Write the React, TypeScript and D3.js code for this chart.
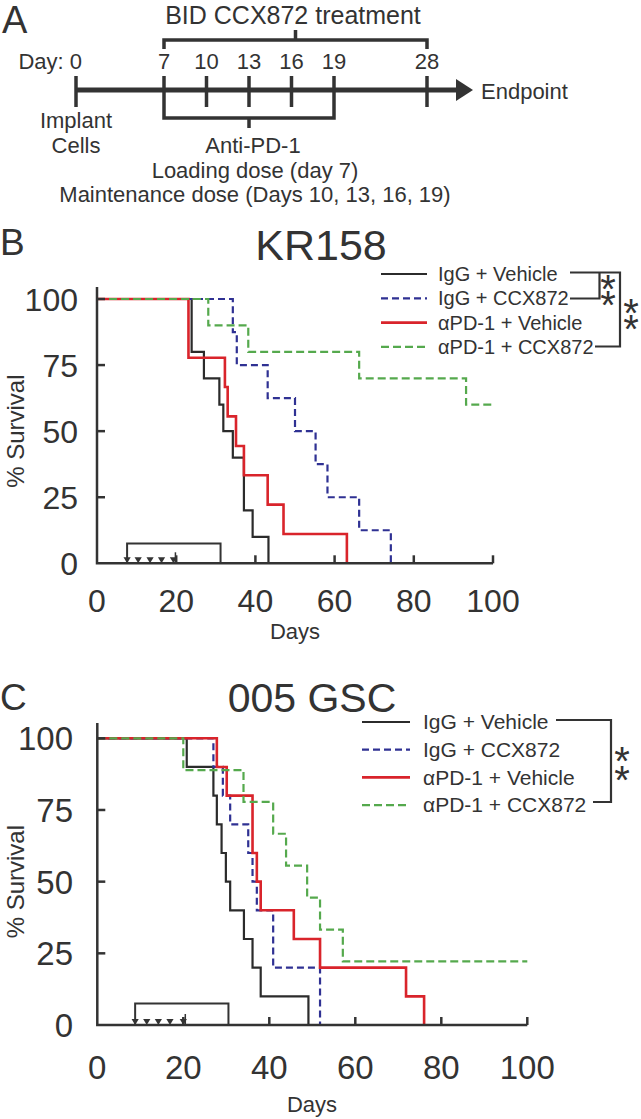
import React, { useRef, useEffect } from "react";
import * as d3 from "d3";

const WIDTH = 641;
const HEIGHT = 1119;
const FONT = "'Liberation Sans', Arial, Helvetica, sans-serif";
const INK = "#333";

// panel A: treatment timeline (days)
const timelineDays = [0, 7, 10, 13, 16, 19, 28];
const ccxWindow = [7, 28];
const pd1Window = [7, 19];

// shared
const groupNames = ["IgG + Vehicle", "IgG + CCX872", "αPD-1 + Vehicle", "αPD-1 + CCX872"];
const xTicks = [0, 20, 40, 60, 80, 100];
const yTicks = [0, 25, 50, 75, 100];

// KR158 survival (day, % survival)
const krIgGVehDays = [0, 23.9, 27, 30.9, 31.9, 34.3, 37.1, 39.3, 43.3];
const krIgGVehSurv = [100, 80, 70, 60, 50, 40, 20, 10, 0];
const krIgGCcxDays = [0, 34.3, 35.3, 43.1, 50, 55.2, 58.2, 66.2, 74.2];
const krIgGCcxSurv = [100, 87.5, 75, 62.5, 50, 37.5, 25, 12.5, 0];
const krPd1VehDays = [0, 23.1, 32.3, 33, 35.1, 37.1, 43.1, 47.1, 63.1];
const krPd1VehSurv = [100, 77.8, 66.7, 55.6, 44.4, 33.3, 22.2, 11.1, 0];
const krPd1CcxDays = [0, 28.1, 38.2, 66.2, 93.2, 100];
const krPd1CcxSurv = [100, 90, 80, 70, 60, 60];
const krDoseDays = [7.6, 10.4, 13.4, 16.3, 19.3];
const krTreatWindow = [7.6, 31.2];

// 005 GSC survival
const gscIgGVehDays = [0, 20.8, 27, 27.8, 28.9, 29.9, 30.9, 34.1, 36.1, 38, 49.1];
const gscIgGVehSurv = [100, 90, 80, 70, 60, 50, 40, 30, 20, 10, 0];
const gscIgGCcxDays = [0, 27, 29.2, 30.9, 35.1, 36.1, 37.1, 40.9, 51.8];
const gscIgGCcxSurv = [100, 90, 80, 70, 60, 50, 40, 20, 0];
const gscPd1VehDays = [0, 27.8, 30.1, 36.1, 37.1, 38, 45.7, 51.8, 71.8, 76];
const gscPd1VehSurv = [100, 90, 80, 60, 50, 40, 30, 20, 10, 0];
const gscPd1CcxDays = [0, 20, 34, 40.9, 43.9, 48.8, 51.8, 57.1, 100];
const gscPd1CcxSurv = [100, 88.9, 77.8, 66.7, 55.6, 44.4, 33.3, 22.2, 22.2];
const gscDoseDays = [8.8, 11.5, 14.2, 16.9, 20];
const gscTreatWindow = [8.8, 30.5];

const seriesStyle = [
  { color: "#2b2b2b", dash: null, width: 2.2 },
  { color: "#2f3193", dash: "7,4", width: 2.2 },
  { color: "#d9242b", dash: null, width: 2.6 },
  { color: "#55a94d", dash: "8,4", width: 2.2 },
];

const panels = [
  {
    title: "KR158",
    letter: "B",
    series: [
      [krIgGVehDays, krIgGVehSurv],
      [krIgGCcxDays, krIgGCcxSurv],
      [krPd1VehDays, krPd1VehSurv],
      [krPd1CcxDays, krPd1CcxSurv],
    ],
    doses: krDoseDays,
    window: krTreatWindow,
    geo: {
      x0: 97, x1: 493, y0: 563.3, y1: 299, axisTop: 287,
      letterY: 255, titleX: 321, titleY: 260, titleSize: 43,
      tickFont: 32, yLabelX: 78, xLabelY: 612, daysY: 639, daysX: 295,
      survX: 24, labelFont: 22,
      legX: 381, legY: 274, legStep: 24.3, legFont: 20, legLine: 46, legGap: 11,
    },
  },
  {
    title: "005 GSC",
    letter: "C",
    series: [
      [gscIgGVehDays, gscIgGVehSurv],
      [gscIgGCcxDays, gscIgGCcxSurv],
      [gscPd1VehDays, gscPd1VehSurv],
      [gscPd1CcxDays, gscPd1CcxSurv],
    ],
    doses: gscDoseDays,
    window: gscTreatWindow,
    geo: {
      x0: 97.3, x1: 527.3, y0: 1025, y1: 738.3, axisTop: 723,
      letterY: 710, titleX: 312, titleY: 712, titleSize: 41,
      tickFont: 33, yLabelX: 73, xLabelY: 1079, daysY: 1112, daysX: 312,
      survX: 24, labelFont: 22,
      legX: 362, legY: 722, legStep: 27.7, legFont: 21, legLine: 48, legGap: 13,
    },
  },
];

function drawTimeline(svg) {
  const g = svg.append("g").attr("fill", INK).style("font-family", FONT);
  const x = d3.scaleLinear().domain([0, 7, 19, 28]).range([76, 164, 334, 427]);
  const axisY = 90;

  g.append("text").attr("x", 2).attr("y", 33).attr("font-size", 38).text("A");
  g.append("text").attr("x", 293).attr("y", 24).attr("font-size", 25)
    .attr("text-anchor", "middle").text("BID CCX872 treatment");

  const line = g.append("g").attr("stroke", INK).attr("fill", "none").attr("stroke-width", 3.5);
  // top bracket (CCX872)
  line.append("path").attr("d",
    `M${x(ccxWindow[0])},49 V40 H${x(ccxWindow[1])} V49 M${(x(ccxWindow[0]) + x(ccxWindow[1])) / 2},40 V30`);
  // bottom bracket (anti-PD-1)
  line.append("path").attr("d",
    `M${x(pd1Window[0])},107 V118 H${x(pd1Window[1])} V107 M${x(13)},118 V128`);
  // main axis
  line.append("line").attr("x1", x(0)).attr("x2", 458).attr("y1", axisY).attr("y2", axisY)
    .attr("stroke-width", 5);
  g.append("path").attr("d", `M456,${axisY - 11} L473,${axisY} L456,${axisY + 11} Z`);
  line.selectAll(".tick").data(timelineDays).join("line")
    .attr("x1", (d) => x(d)).attr("x2", (d) => x(d))
    .attr("y1", axisY - 14).attr("y2", axisY + 17);

  g.selectAll(".dayLab").data(timelineDays.slice(1)).join("text")
    .attr("x", (d) => x(d)).attr("y", 69).attr("font-size", 22)
    .attr("text-anchor", "middle").text((d) => d);
  g.append("text").attr("x", x(0) + 6).attr("y", 69).attr("font-size", 22)
    .attr("text-anchor", "end").text("Day: 0");
  g.append("text").attr("x", 481).attr("y", 99).attr("font-size", 22).text("Endpoint");

  const mid = (t, xx, yy) =>
    g.append("text").attr("x", xx).attr("y", yy).attr("font-size", 22)
      .attr("text-anchor", "middle").text(t);
  mid("Implant", x(0), 128);
  mid("Cells", x(0), 153);
  mid("Anti-PD-1", 253, 153);
  mid("Loading dose (day 7)", 255, 178);
  mid("Maintenance dose (Days 10, 13, 16, 19)", 255, 202);
}

function drawPanel(svg, panel) {
  const p = panel.geo;
  const g = svg.append("g").style("font-family", FONT);
  const x = d3.scaleLinear().domain([0, 100]).range([p.x0, p.x1]);
  const y = d3.scaleLinear().domain([0, 100]).range([p.y0, p.y1]);

  g.append("text").attr("x", 0).attr("y", p.letterY).attr("font-size", 37).attr("fill", INK)
    .text(panel.letter);
  g.append("text").attr("x", p.titleX).attr("y", p.titleY).attr("font-size", p.titleSize)
    .attr("fill", INK).attr("text-anchor", "middle").text(panel.title);

  // curves
  const line = d3.line().x((d) => x(d[0])).y((d) => y(d[1])).curve(d3.curveStepAfter);
  panel.series.forEach(([days, surv], i) => {
    const s = seriesStyle[i];
    g.append("path")
      .datum(days.map((d, j) => [d, surv[j]]))
      .attr("fill", "none")
      .attr("stroke", s.color)
      .attr("stroke-width", s.width)
      .attr("stroke-dasharray", s.dash)
      .attr("d", line);
  });

  // axes
  const ax = g.append("g").attr("stroke", INK).attr("stroke-width", 2.5).attr("fill", "none");
  ax.append("path").attr("d", `M${p.x0},${p.axisTop} V${p.y0} H${x(100)}`);
  ax.selectAll(".xt").data(xTicks.slice(1)).join("line")
    .attr("x1", (d) => x(d)).attr("x2", (d) => x(d))
    .attr("y1", p.y0).attr("y2", p.y0 - 8);
  ax.selectAll(".yt").data(yTicks.slice(1)).join("line")
    .attr("x1", p.x0).attr("x2", p.x0 + 8)
    .attr("y1", (d) => y(d)).attr("y2", (d) => y(d));

  g.selectAll(".xl").data(xTicks).join("text")
    .attr("x", (d) => x(d)).attr("y", p.xLabelY).attr("font-size", p.tickFont)
    .attr("fill", INK).attr("text-anchor", "middle").text((d) => d);
  g.selectAll(".yl").data(yTicks).join("text")
    .attr("x", p.yLabelX).attr("y", (d) => y(d)).attr("dy", "0.36em")
    .attr("font-size", p.tickFont).attr("fill", INK).attr("text-anchor", "end").text((d) => d);
  g.append("text").attr("x", p.daysX).attr("y", p.daysY).attr("font-size", p.labelFont)
    .attr("fill", INK).attr("text-anchor", "middle").text("Days");
  g.append("text")
    .attr("transform", `translate(${p.survX},${(p.y0 + p.y1) / 2}) rotate(-90)`)
    .attr("font-size", p.labelFont + 2).attr("fill", INK).attr("text-anchor", "middle")
    .text("% Survival");

  // treatment window + dosing arrows
  const tw = panel.window;
  g.append("path").attr("fill", "none").attr("stroke", INK).attr("stroke-width", 2)
    .attr("d", `M${x(tw[0])},${p.y0} V${y(7.5)} H${x(tw[1])} V${p.y0}`);
  g.selectAll(".dose").data(panel.doses).join("path").attr("fill", INK)
    .attr("d", (d) => `M${x(d) - 3.6},${p.y0 - 6} H${x(d) + 3.6} L${x(d)},${p.y0} Z`);
  const last = panel.doses[panel.doses.length - 1];
  g.append("line").attr("stroke", INK).attr("stroke-width", 1.5)
    .attr("x1", x(last) + 2).attr("x2", x(last) + 2).attr("y1", p.y0 - 11).attr("y2", p.y0);

  // legend
  const leg = g.append("g");
  groupNames.forEach((name, i) => {
    const s = seriesStyle[i];
    const ly = p.legY + i * p.legStep;
    leg.append("line").attr("x1", p.legX).attr("x2", p.legX + p.legLine)
      .attr("y1", ly).attr("y2", ly).attr("stroke", s.color).attr("stroke-width", s.width)
      .attr("stroke-dasharray", s.dash);
    leg.append("text").attr("x", p.legX + p.legLine + p.legGap).attr("y", ly).attr("dy", "0.35em")
      .attr("font-size", p.legFont).attr("fill", INK).text(name);
  });
  return g;
}

// two stacked asterisks in one text element
const stars = (g, cx, cy, gap) => {
  const t = g.append("text").attr("x", cx).attr("y", cy + 22).attr("font-size", 40)
    .attr("text-anchor", "middle").attr("fill", INK).style("font-family", FONT);
  t.append("tspan").attr("x", cx).text("*");
  t.append("tspan").attr("x", cx).attr("dy", gap).text("*");
};

export default function App() {
  const svgRef = useRef(null);

  useEffect(() => {
    const svg = d3.select(svgRef.current);
    svg.selectAll("*").remove();
    svg.append("rect").attr("width", WIDTH).attr("height", HEIGHT).attr("fill", "#fff");

    drawTimeline(svg);
    const gB = drawPanel(svg, panels[0]);
    const gC = drawPanel(svg, panels[1]);

    // significance brackets
    gB.append("path").attr("fill", "none").attr("stroke", INK).attr("stroke-width", 2.2)
      .attr("d", "M570,272.5 H620 V346.5 H595 M599.5,272.5 V298.5 H570");
    stars(gB, 608, 281, 16);
    stars(gB, 631, 305, 16);

    gC.append("path").attr("fill", "none").attr("stroke", INK).attr("stroke-width", 2.2)
      .attr("d", "M556,720 H611 V802 H593");
    stars(gC, 622, 753, 19);
  }, []);

  return (
    <svg
      ref={svgRef}
      width={WIDTH}
      height={HEIGHT}
      style={{ position: "absolute", left: 0, top: 0, display: "block" }}
    />
  );
}
